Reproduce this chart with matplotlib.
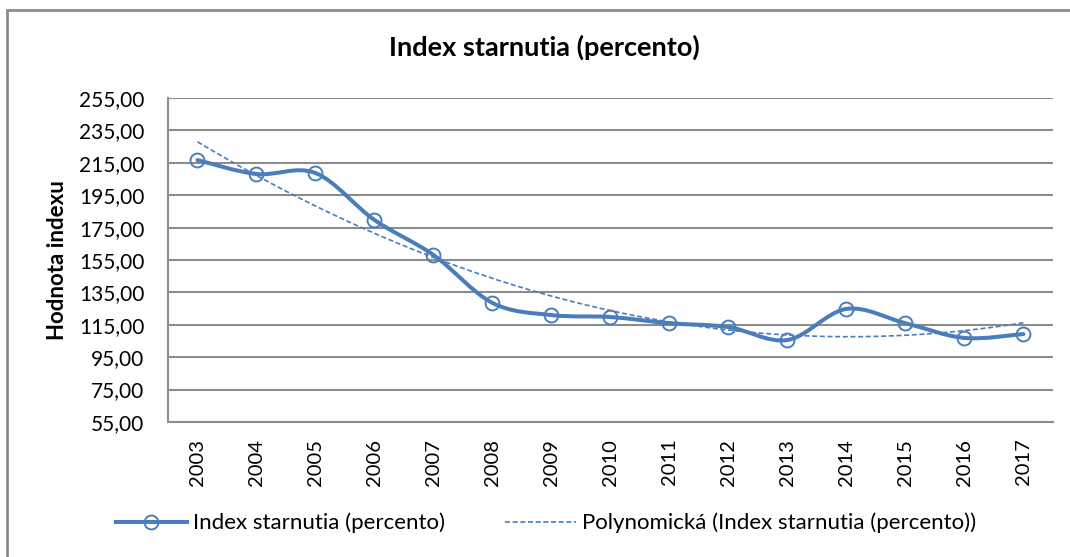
import numpy as np
import matplotlib.pyplot as plt
from matplotlib.path import Path
from matplotlib.patches import PathPatch, Rectangle
from matplotlib.lines import Line2D
from matplotlib.ticker import FuncFormatter

# data
roky = ['2003', '2004', '2005', '2006', '2007', '2008', '2009', '2010',
        '2011', '2012', '2013', '2014', '2015', '2016', '2017']
index_starnutia = [216.7, 208.1, 208.7, 179.7, 158.1, 128.5, 121.0, 119.8,
                   116.0, 113.6, 105.6, 124.8, 116.0, 106.9, 109.3]
y_ticks = [55, 75, 95, 115, 135, 155, 175, 195, 215, 235, 255]

modra = '#4a7ebb'
seda = '#8c8c8c'
plt.rcParams['font.family'] = ['Lato', 'DejaVu Sans']

fig = plt.figure(figsize=(10.7, 5.57), dpi=100)
ax = fig.add_axes([0.157, 0.2424, 0.827, 0.5816])

x = np.arange(len(roky))
y = np.array(index_starnutia)

# vyhladena ciara (Catmull-Rom -> Bezier), ako v Exceli
body = np.column_stack([x, y])
verts = [tuple(body[0])]
codes = [Path.MOVETO]
for i in range(len(body) - 1):
    p0 = body[max(i - 1, 0)]
    p1 = body[i]
    p2 = body[i + 1]
    p3 = body[min(i + 2, len(body) - 1)]
    c1 = p1 + (p2 - p0) / 6
    c2 = p2 - (p3 - p1) / 6
    verts += [tuple(c1), tuple(c2), tuple(p2)]
    codes += [Path.CURVE4] * 3
ax.add_patch(PathPatch(Path(verts, codes), fill=False, edgecolor=modra,
                       lw=2.9, capstyle='round', joinstyle='round', zorder=3))
ax.plot(x, y, ls='none', marker='o', ms=10, mfc='none', mec=modra, mew=1.4, zorder=4)

# polynomicky trend (2. stupen)
koef = np.polyfit(x, y, 2)
xt = np.linspace(x[0], x[-1], 200)
ax.plot(xt, np.polyval(koef, xt), color=modra, lw=1.2, ls=(0, (3, 1.6)), zorder=2)

ax.set_xlim(-0.5, len(roky) - 0.5)
ax.set_ylim(55, 255)
ax.set_yticks(y_ticks)
ax.yaxis.set_major_formatter(FuncFormatter(lambda v, p: f'{v:.2f}'.replace('.', ',')))
ax.set_xticks(x)
ax.set_xticklabels(roky, rotation=90, fontsize=14.5)
ax.tick_params(axis='y', labelsize=15, length=0, pad=17)
ax.tick_params(axis='x', length=0, pad=12)
ax.grid(axis='y', color=seda, lw=1.5)
ax.set_axisbelow(True)
for s in ['top', 'right']:
    ax.spines[s].set_visible(False)
for s in ['left', 'bottom']:
    ax.spines[s].set_color(seda)
    ax.spines[s].set_linewidth(1.5)

ax.set_ylabel('Hodnota indexu', fontsize=16, fontweight='bold', labelpad=8)
fig.text(0.509, 0.915, 'Index starnutia (percento)', ha='center', va='center',
         fontsize=19.5, fontweight='bold')

handles = [Line2D([], [], color=modra, lw=2.9, marker='o', ms=10, mfc='none', mec=modra, mew=1.4),
           Line2D([], [], color=modra, lw=1.2, ls=(0, (3, 1.6)))]
fig.legend(handles, ['Index starnutia (percento)', 'Polynomická (Index starnutia (percento))'],
           loc='center', bbox_to_anchor=(0.51, 0.061), ncol=2, frameon=False,
           fontsize=16, handlelength=3.2, handletextpad=0.27, columnspacing=2.7)

# ram grafu
fig.patches.append(Rectangle((7 / 1070, -0.05), 1.2, 1 - 10 / 557 + 0.05,
                             transform=fig.transFigure, fill=False,
                             edgecolor=seda, lw=2, clip_on=False))

fig.savefig('out.png', dpi=100)
